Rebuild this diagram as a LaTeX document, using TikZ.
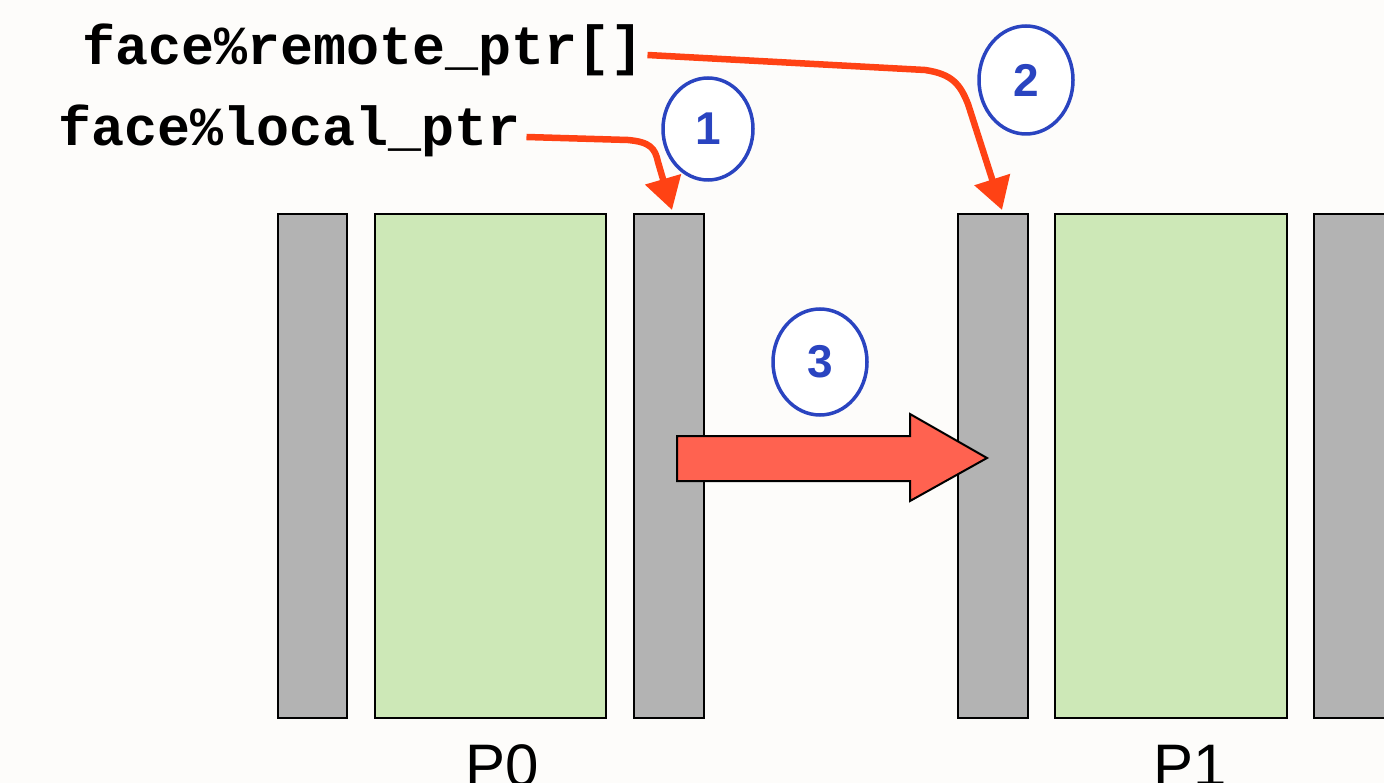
\documentclass[tikz,border=0pt]{standalone}
\usepackage{fontspec}
\setmainfont{Liberation Sans}
\newfontfamily\monob{Liberation Mono}
\usetikzlibrary{arrows.meta,shapes.geometric}
\definecolor{bgc}{RGB}{253,252,250}
\definecolor{grayc}{RGB}{179,179,179}
\definecolor{greenc}{RGB}{205,232,183}
\definecolor{redc}{RGB}{255,66,20}
\definecolor{bigred}{RGB}{255,98,80}
\definecolor{bluec}{RGB}{42,68,192}
\tikzset{
  ghost/.style={draw=black,line width=2pt,fill=grayc},
  cell/.style={draw=black,line width=2pt,fill=greenc},
  ptr/.style={draw=redc,line width=6.5pt,-{Triangle[length=32pt,width=36pt]}},
  num/.style={ellipse,draw=bluec,line width=3.5pt,fill=white,text=bluec,inner sep=0pt,
     font=\bfseries\fontsize{46}{46}\selectfont},
  code/.style={font=\monob\bfseries\fontsize{55}{55}\selectfont,inner sep=0pt,anchor=base west},
  plabel/.style={font=\fontsize{60}{60}\selectfont,inner sep=0pt,anchor=base}
}
\begin{document}
\begin{tikzpicture}[x=1pt,y=-1pt]
\useasboundingbox (0,0) rectangle (1384,783);
\fill[bgc] (0,0) rectangle (1384,783);
% columns
\draw[ghost] (278,214) rectangle (347,718);
\draw[cell] (375,214) rectangle (606,718);
\draw[ghost] (634,214) rectangle (704,718);
\draw[ghost] (958,214) rectangle (1028,718);
\draw[cell] (1055,214) rectangle (1287,718);
\draw[ghost] (1314,214) rectangle (1390,718);
\coordinate (t1) at (672,210);
\coordinate (t2) at (1002,210);
% labels
\node[code] (remote) at (82,65) {face\%remote\_ptr[]};
\node[code] (local) at (58,146) {face\%local\_ptr};
\node[plabel] (p0) at (502,786) {P0};
\node[plabel] (p1) at (1190,786) {P1};
% pointer arrows
\draw[ptr] (remote.east |- 0,55) ++(4,0) -- (925,70) .. controls (952,74) and (960,84) .. (968,104) -- (t2);
\draw[ptr] (local.east |- 0,137) ++(6,0) -- (628,140) .. controls (650,142) and (655,148) .. (658,162) -- (t1);
% numbered ellipses
\node[num,minimum width=90pt,minimum height=102pt] (n1) at (708,129) {1};
\node[num,minimum width=94pt,minimum height=108pt] (n2) at (1026,80) {2};
\node[num,minimum width=94pt,minimum height=106pt] (n3) at (820,362) {3};
% big arrow
\draw[fill=bigred,draw=black,line width=2pt,line join=miter]
  (677,436) -- (910,436) -- (910,414) -- (987,458) -- (910,501) -- (910,481) -- (677,481) -- cycle;
\end{tikzpicture}
\end{document}
